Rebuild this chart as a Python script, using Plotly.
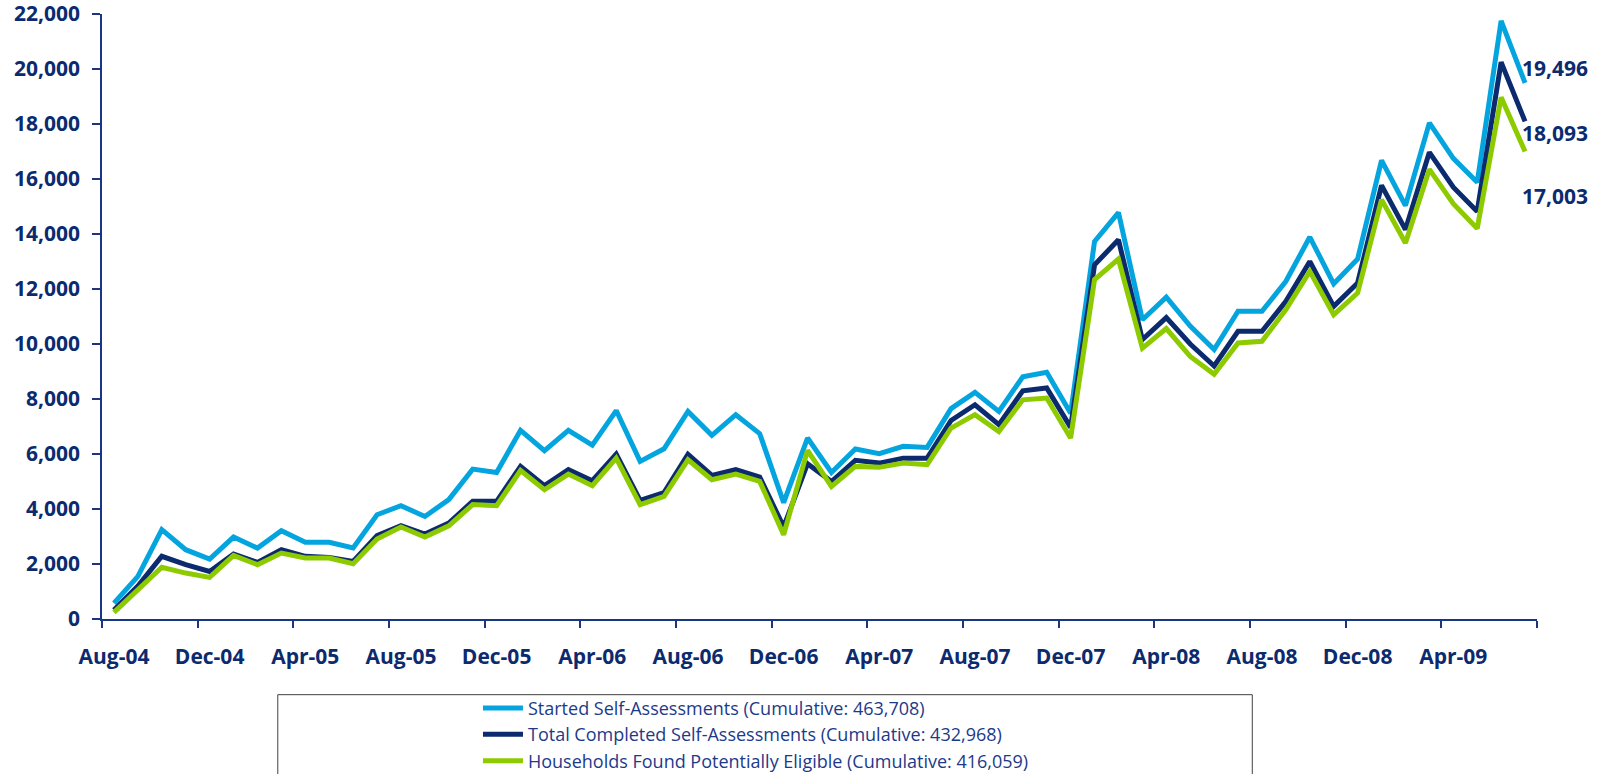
import pandas as pd
import plotly.graph_objects as go

# ---- data (monthly, Aug-04 .. Jul-09) ----
months = list(pd.date_range("2004-08-01", periods=60, freq="MS").strftime("%b-%y"))

started = [580, 1550, 3250, 2520, 2180, 2980, 2580, 3210, 2790, 2790,
           2580, 3790, 4120, 3730, 4340, 5450, 5330, 6860, 6120, 6860,
           6320, 7580, 5730, 6190, 7550, 6680, 7430, 6740, 4230, 6580,
           5330, 6180, 6010, 6280, 6240, 7650, 8240, 7550, 8810, 8970,
           7480, 13730, 14780, 10880, 11700, 10650, 9800, 11190, 11190, 12280,
           13890, 12190, 13090, 16680, 15030, 18040, 16750, 15880, 21750, 19496]

completed = [330, 1200, 2280, 1975, 1730, 2360, 2060, 2520, 2280, 2240,
             2095, 3030, 3390, 3090, 3490, 4280, 4280, 5550, 4850, 5430,
             5030, 6000, 4310, 4600, 5990, 5220, 5430, 5160, 3350, 5650,
             5000, 5770, 5670, 5850, 5850, 7220, 7790, 7065, 8300, 8400,
             6970, 12880, 13790, 10160, 10960, 10000, 9200, 10460, 10460, 11550,
             13000, 11370, 12220, 15770, 14160, 16970, 15700, 14820, 20250, 18093]

eligible = [240, 1090, 1880, 1670, 1515, 2315, 1975, 2400, 2220, 2220,
            2010, 2910, 3345, 2980, 3390, 4160, 4120, 5400, 4700, 5270,
            4850, 5850, 4160, 4460, 5790, 5065, 5270, 5005, 3065, 6130,
            4820, 5550, 5515, 5670, 5610, 6945, 7430, 6820, 7970, 8035,
            6580, 12340, 13090, 9850, 10560, 9550, 8900, 10040, 10100, 11250,
            12640, 11065, 11855, 15250, 13670, 16350, 15100, 14200, 18970, 17003]

series_names = [
    "Started Self-Assessments (Cumulative: 463,708)",
    "Total Completed Self-Assessments (Cumulative: 432,968)",
    "Households Found Potentially Eligible (Cumulative: 416,059)",
]

# ---- styling ----
BLUE = "#04A5DF"
NAVY = "#0C2A6E"
GREEN = "#8DCB00"
AXIS = "#1A3683"
LEGEND_TEXT = "#1C3A8A"
TICKFONT = dict(family="Open Sans", size=21, color=NAVY, weight="bold")

fig = go.Figure()
for name, vals, col in zip(series_names, [started, completed, eligible], [BLUE, NAVY, GREEN]):
    fig.add_trace(go.Scatter(
        x=months, y=vals, name=name, mode="lines",
        line=dict(color=col, width=5),
    ))

# end-of-series value labels
label_shifts = [15, -12, -45]
for vals, ys in zip([started, completed, eligible], label_shifts):
    fig.add_annotation(
        x=months[-1], y=vals[-1], xref="x", yref="y",
        text=f"{vals[-1]:,}", showarrow=False,
        xanchor="left", yanchor="middle", xshift=-5, yshift=ys,
        font=TICKFONT,
    )

# legend frame
fig.add_shape(type="rect", xref="paper", yref="paper",
              x0=0.1225, x1=0.8016, y0=-0.1251, y1=-0.30,
              line=dict(color="#404040", width=1), fillcolor="rgba(0,0,0,0)")

fig.update_layout(
    width=1602, height=774,
    margin=dict(l=102, r=65, t=14, b=155, autoexpand=False),
    paper_bgcolor="white", plot_bgcolor="white",
    showlegend=True,
    legend=dict(
        x=0.262, y=-0.1169, xanchor="left", yanchor="top",
        font=dict(family="Open Sans", size=18, color=LEGEND_TEXT),
        bgcolor="rgba(0,0,0,0)", borderwidth=0,
        tracegroupgap=0, itemwidth=40,
    ),
)

fig.update_xaxes(
    type="category", range=[-0.5, 59.5],
    tickmode="linear", tick0=0, dtick=4, tickson="boundaries",
    tickangle=0,
    showline=True, linecolor=AXIS, linewidth=1.5,
    ticks="outside", ticklen=7, tickcolor=AXIS, tickwidth=1.5,
    ticklabelstandoff=18,
    showgrid=False, zeroline=False,
    tickfont=TICKFONT,
)
fig.update_yaxes(
    range=[0, 22000], tickmode="linear", tick0=0, dtick=2000,
    tickformat=",", ticklabeloverflow="allow",
    showline=True, linecolor=AXIS, linewidth=1.5,
    ticks="outside", ticklen=8, tickcolor=AXIS, tickwidth=1.5,
    ticklabelstandoff=8,
    showgrid=False, zeroline=False,
    tickfont=TICKFONT,
)

fig.write_html("out.html", config={"displayModeBar": False},
               post_script="document.body.style.margin='0px';")
